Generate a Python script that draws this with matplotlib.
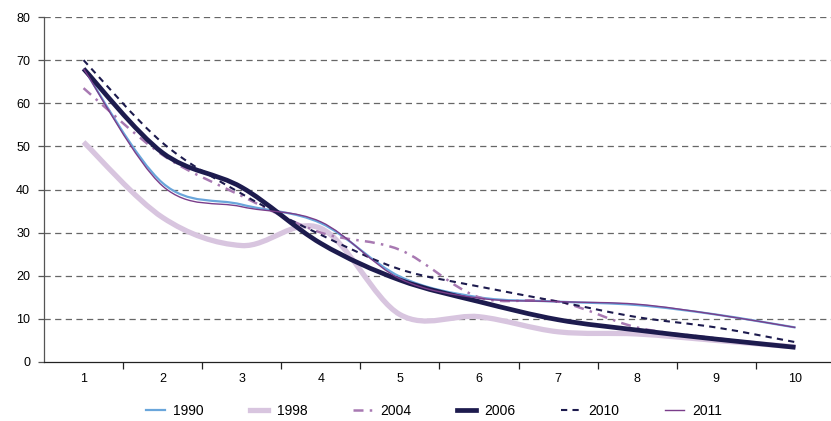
import matplotlib
matplotlib.use('Agg')
import matplotlib.pyplot as plt
from matplotlib.path import Path
from matplotlib.patches import PathPatch
from matplotlib.lines import Line2D
import numpy as np

plt.rcParams['font.family'] = ['Liberation Sans', 'DejaVu Sans']

categories = [1, 2, 3, 4, 5, 6, 7, 8, 9, 10]
y1990 = [68, 41.5, 36.5, 32.2, 19.8, 15, 14, 13.2, 11, 8]
y1998 = [51, 33.5, 27, 31, 11, 10.5, 7, 6.5, 5, 3.5]
y2004 = [63.5, 48, 38.5, 30, 26, 15, 14, 8, 5.5, 3.5]
y2006 = [68, 48.5, 40.5, 27.5, 19, 14, 9.8, 7.4, 5.3, 3.4]
y2010 = [70, 50.8, 39, 29.5, 21.5, 17.5, 14, 10.4, 8, 4.6]
y2011 = [68, 40.8, 36, 32.5, 19.3, 14.8, 14, 13.4, 11, 8]

series = [
    ('1990', y1990, '#6AA6DB', 1.6, '-'),
    ('1998', y1998, '#D8C5DF', 3.8, '-'),
    ('2004', y2004, '#A879B2', 1.8, (0, (4, 2.5, 1, 2.5))),
    ('2006', y2006, '#1D1B4E', 3.4, '-'),
    ('2010', y2010, '#1D1B4E', 1.5, (0, (3, 2.5))),
    ('2011', y2011, '#7A3D8A', 1.0, '-'),
]


def smooth_path(x, y):
    # Excel-style smoothed line: cubic Bezier through each point
    p = np.column_stack([x, y]).astype(float)
    n = len(p)
    verts = [p[0]]
    codes = [Path.MOVETO]
    for i in range(n - 1):
        p0 = p[i - 1] if i > 0 else p[i]
        p3 = p[i + 2] if i + 2 < n else p[i + 1]
        c1 = p[i] + (p[i + 1] - p0) / 6
        c2 = p[i + 1] - (p3 - p[i]) / 6
        verts += [c1, c2, p[i + 1]]
        codes += [Path.CURVE4] * 3
    return Path(verts, codes)


fig = plt.figure(figsize=(8.31, 4.21), dpi=100)
ax = fig.add_axes([44 / 831, 59 / 421, 791 / 831, 345 / 421])

handles = []
for name, vals, col, lw, ls in series:
    patch = PathPatch(smooth_path(categories, vals), fill=False, edgecolor=col,
                      linewidth=lw, linestyle=ls, capstyle='butt', zorder=3)
    ax.add_patch(patch)
    handles.append(Line2D([], [], color=col, lw=lw, ls=ls))

ax.set_xlim(0.5, 10.5)
ax.set_ylim(0, 80)
ax.set_yticks(range(0, 81, 10))
for v in range(10, 81, 10):
    ax.axhline(v, color='#666666', lw=0.9, ls=(0, (5, 3.5)), zorder=1)

ax.set_xticks(np.arange(1.5, 10.5, 1))
ax.set_xticklabels([])
ax.set_xticks(categories, minor=True)
ax.set_xticklabels([str(c) for c in categories], minor=True)
ax.tick_params(axis='x', which='major', direction='out', length=5, width=0.9, color='#222222')
ax.tick_params(axis='x', which='minor', length=0, pad=8, labelsize=9)
ax.tick_params(axis='y', direction='out', length=4, width=0.9, color='#555555', labelsize=9, pad=6)

for s in ['top', 'right']:
    ax.spines[s].set_visible(False)
ax.spines['left'].set_color('#555555')
ax.spines['bottom'].set_color('#222222')
ax.spines['left'].set_linewidth(0.9)
ax.spines['bottom'].set_linewidth(0.9)

fig.legend(handles, [s[0] for s in series], loc='center', bbox_to_anchor=(434 / 831, 1 - 411 / 421),
           ncol=6, frameon=False, fontsize=10, handlelength=1.35, columnspacing=3.3, handletextpad=0.6)

fig.savefig('out.png', dpi=100)
